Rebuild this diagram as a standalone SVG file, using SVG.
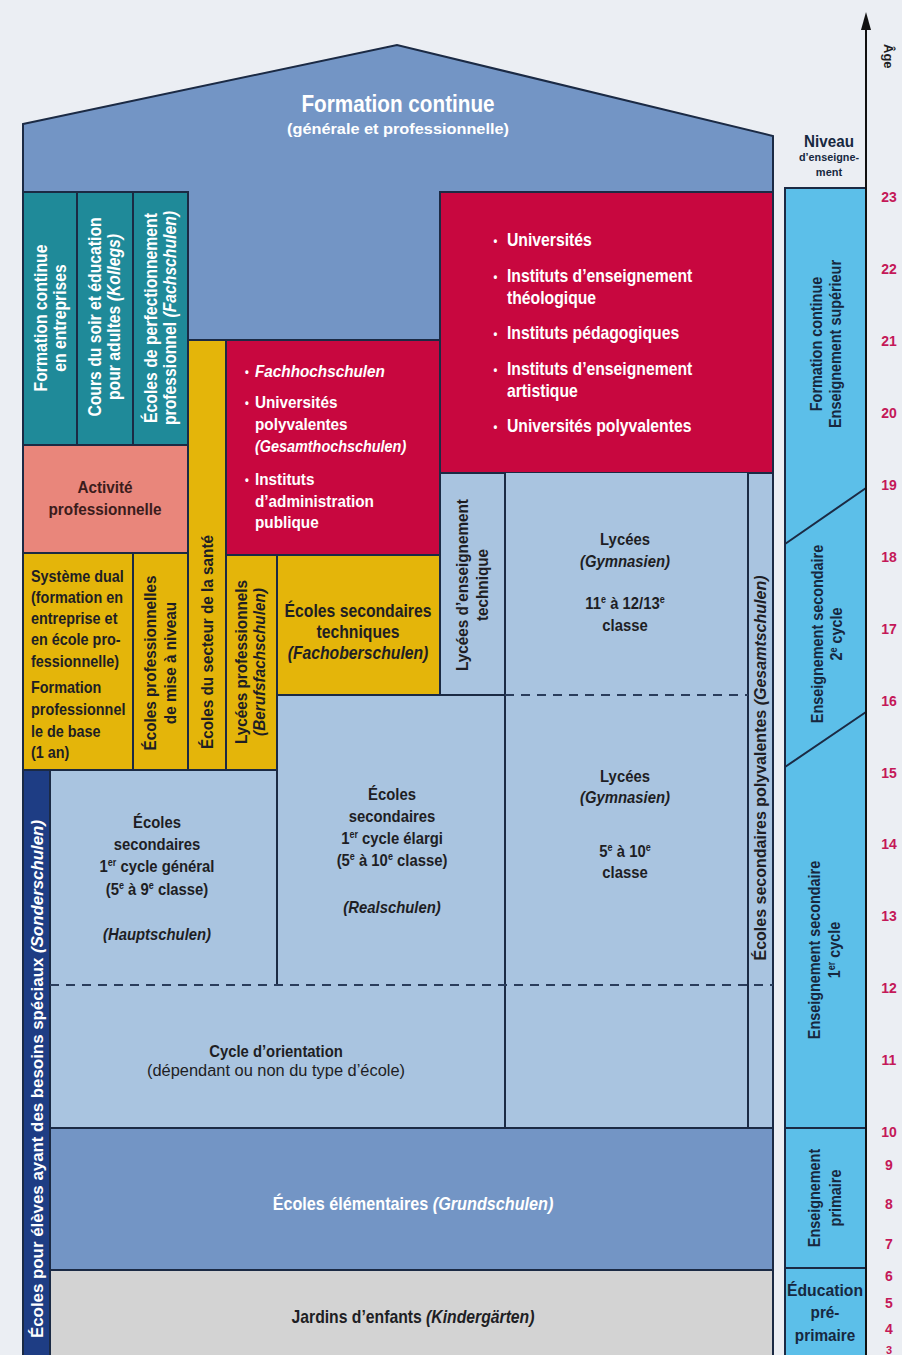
<svg xmlns="http://www.w3.org/2000/svg" width="902" height="1355" viewBox="0 0 902 1355">
<defs>
<style>
text{font-family:"Liberation Sans",Arial,"DejaVu Sans Condensed",sans-serif;font-weight:bold;}
.b{stroke:#1b2a44;stroke-width:2;}
.ln{fill:none;stroke:#1b2a44;stroke-width:2;}
.ds{fill:none;stroke:#2a3d5c;stroke-width:2;stroke-dasharray:9 7;}
.blue{fill:#7395c5;}
.teal{fill:#1f8a99;}
.red{fill:#c8073f;}
.yel{fill:#e4b50a;}
.lb{fill:#a9c4e0;}
.w{fill:#ffffff;}
.k{fill:#1e1e24;}
.nv{fill:#17283f;}
.i{font-style:italic;}
.n{font-weight:normal;}
.age{fill:#c41858;font-size:14px;text-anchor:middle;}
.c{text-anchor:middle;}
</style>
<marker id="arr" viewBox="0 0 18 10" refX="0" refY="5" markerWidth="18" markerHeight="10" markerUnits="userSpaceOnUse" orient="auto">
<path d="M0,0 L18,5 L0,10 z" fill="#111"/>
</marker>
</defs>
<rect x="0" y="0" width="902" height="1355" fill="#ebeef3"/>

<g id="formation-continue">
<polygon class="blue b" points="23,124 397,45 773,136 773,1128 23,1128"/>
<text class="w c" font-size="23" transform="translate(398,112) scale(.9,1)">Formation continue</text>
<text class="w c" x="398" y="134" font-size="15" textLength="222" lengthAdjust="spacingAndGlyphs">(générale et professionnelle)</text>
</g>

<g id="formation-entreprises">
<rect class="teal b" x="23" y="192" width="54" height="253"/>
<text class="w c" font-size="17.5" transform="translate(51,318) rotate(-90) scale(.9,1)"><tspan x="0" y="-4">Formation continue</tspan><tspan x="0" y="15">en entreprises</tspan></text>
</g>
<g id="kollegs">
<rect class="teal b" x="77" y="192" width="56" height="253"/>
<text class="w c" font-size="17.5" transform="translate(105,317) rotate(-90) scale(.9,1)"><tspan x="0" y="-4">Cours du soir et éducation</tspan><tspan x="0" y="15">pour adultes <tspan class="i">(Kollegs)</tspan></tspan></text>
</g>
<g id="fachschulen">
<rect class="teal b" x="133" y="192" width="55" height="253"/>
<text class="w c" font-size="17.5" transform="translate(161,318) rotate(-90) scale(.9,1)"><tspan x="0" y="-4">Écoles de perfectionnement</tspan><tspan x="0" y="15">professionnel <tspan class="i">(Fachschulen)</tspan></tspan></text>
</g>

<g id="universites">
<rect class="red b" x="440" y="192" width="333" height="281"/>
<g class="w" font-size="17.5" transform="translate(507,0) scale(.9,1)">
<text x="-15" y="245" font-size="12">•</text><text x="0" y="246">Universités</text>
<text x="-15" y="281" font-size="12">•</text><text x="0" y="282">Instituts d’enseignement</text>
<text x="0" y="304">théologique</text>
<text x="-15" y="338" font-size="12">•</text><text x="0" y="339">Instituts pédagogiques</text>
<text x="-15" y="374" font-size="12">•</text><text x="0" y="375">Instituts d’enseignement</text>
<text x="0" y="397">artistique</text>
<text x="-15" y="431" font-size="12">•</text><text x="0" y="432">Universités polyvalentes</text>
</g>
</g>

<g id="sante">
<rect class="yel b" x="188" y="340" width="38" height="430"/>
<text class="k c" font-size="17" transform="translate(207,642) rotate(-90) scale(.9,1)" y="6">Écoles du secteur de la santé</text>
</g>

<g id="fachhochschulen">
<rect class="red b" x="226" y="340" width="214" height="215"/>
<g class="w" font-size="17" transform="translate(255,0) scale(.9,1)">
<text x="-11" y="376" font-size="12">•</text><text x="0" y="377" class="i">Fachhochschulen</text>
<text x="-11" y="407" font-size="12">•</text><text x="0" y="408">Universités</text>
<text x="0" y="430">polyvalentes</text>
<text x="0" y="452" class="i" textLength="168" lengthAdjust="spacingAndGlyphs">(Gesamthochschulen)</text>
<text x="-11" y="484" font-size="12">•</text><text x="0" y="485">Instituts</text>
<text x="0" y="507">d’administration</text>
<text x="0" y="528">publique</text>
</g>
</g>

<g id="activite">
<rect class="b" fill="#e9867b" x="23" y="445" width="165" height="108"/>
<g class="c" fill="#3b1c1c" font-size="17" transform="translate(105,0) scale(.9,1)">
<text x="0" y="493">Activité</text>
<text x="0" y="515">professionnelle</text>
</g>
</g>

<g id="systeme-dual">
<rect class="yel b" x="23" y="553" width="110" height="217"/>
<g class="k" font-size="16" transform="translate(31,0) scale(.9,1)">
<text x="0" y="582">Système dual</text>
<text x="0" y="603">(formation en</text>
<text x="0" y="624">entreprise et</text>
<text x="0" y="645">en école pro-</text>
<text x="0" y="667">fessionnelle)</text>
<text x="0" y="693">Formation</text>
<text x="0" y="715">professionnel</text>
<text x="0" y="737">le de base</text>
<text x="0" y="758">(1 an)</text>
</g>
</g>

<g id="mise-a-niveau">
<rect class="yel b" x="133" y="553" width="55" height="217"/>
<text class="k c" font-size="17" transform="translate(160,663) rotate(-90) scale(.9,1)"><tspan x="0" y="-4">Écoles professionnelles</tspan><tspan x="0" y="16">de mise à niveau</tspan></text>
</g>

<g id="berufsfachschulen">
<rect class="yel b" x="226" y="555" width="51" height="215"/>
<text class="k c" font-size="17" transform="translate(251,662) rotate(-90) scale(.9,1)"><tspan x="0" y="-4">Lycées professionnels</tspan><tspan x="0" y="14" class="i">(Berufsfachschulen)</tspan></text>
</g>

<g id="fachoberschulen">
<rect class="yel b" x="277" y="555" width="163" height="140"/>
<g class="k c" font-size="17.5" transform="translate(358,0) scale(.9,1)">
<text x="0" y="617">Écoles secondaires</text>
<text x="0" y="638">techniques</text>
<text x="0" y="659" class="i">(Fachoberschulen)</text>
</g>
</g>

<g id="lycees-techniques">
<rect class="lb b" x="440" y="473" width="65" height="222"/>
<text class="k c" font-size="17" transform="translate(472,585) rotate(-90) scale(.9,1)"><tspan x="0" y="-4">Lycées d’enseignement</tspan><tspan x="0" y="16">technique</tspan></text>
</g>

<g id="gymnasien">
<rect class="lb" x="505" y="473" width="243" height="655"/>
<g class="k c" font-size="16.5" transform="translate(625,0) scale(.9,1)">
<text x="0" y="545">Lycées</text>
<text x="0" y="567" class="i">(Gymnasien)</text>
<text x="0" y="609">11<tspan font-size="10" dy="-6">e</tspan><tspan dy="6"> à 12/13</tspan><tspan font-size="10" dy="-6">e</tspan></text>
<text x="0" y="631">classe</text>
<text x="0" y="782">Lycées</text>
<text x="0" y="803" class="i">(Gymnasien)</text>
<text x="0" y="857">5<tspan font-size="10" dy="-6">e</tspan><tspan dy="6"> à 10</tspan><tspan font-size="10" dy="-6">e</tspan></text>
<text x="0" y="878">classe</text>
</g>
</g>

<g id="gesamtschulen">
<rect class="lb b" x="748" y="473" width="25" height="655"/>
<text class="k c" font-size="16" transform="translate(760,768) rotate(-90)" y="6" textLength="385" lengthAdjust="spacingAndGlyphs">Écoles secondaires polyvalentes <tspan class="i">(Gesamtschulen)</tspan></text>
</g>

<g id="hauptschulen">
<rect class="lb" x="50" y="770" width="227" height="215"/>
<g class="k c" font-size="16.5" transform="translate(157,0) scale(.9,1)">
<text x="0" y="828">Écoles</text>
<text x="0" y="850">secondaires</text>
<text x="0" y="872">1<tspan font-size="10" dy="-6">er</tspan><tspan dy="6"> cycle général</tspan></text>
<text x="0" y="895">(5<tspan font-size="10" dy="-6">e</tspan><tspan dy="6"> à 9</tspan><tspan font-size="10" dy="-6">e</tspan><tspan dy="6"> classe)</tspan></text>
<text x="0" y="940" class="i">(Hauptschulen)</text>
</g>
</g>

<g id="realschulen">
<rect class="lb" x="277" y="695" width="228" height="290"/>
<g class="k c" font-size="16.5" transform="translate(392,0) scale(.9,1)">
<text x="0" y="800">Écoles</text>
<text x="0" y="822">secondaires</text>
<text x="0" y="844">1<tspan font-size="10" dy="-6">er</tspan><tspan dy="6"> cycle élargi</tspan></text>
<text x="0" y="866">(5<tspan font-size="10" dy="-6">e</tspan><tspan dy="6"> à 10</tspan><tspan font-size="10" dy="-6">e</tspan><tspan dy="6"> classe)</tspan></text>
<text x="0" y="913" class="i">(Realschulen)</text>
</g>
</g>

<g id="cycle-orientation">
<rect class="lb" x="50" y="985" width="455" height="143"/>
<text class="k c" font-size="16.5" transform="translate(276,1057) scale(.9,1)">Cycle d’orientation</text>
<text class="k c n" font-size="16" x="276" y="1076" textLength="258" lengthAdjust="spacingAndGlyphs">(dépendant ou non du type d’école)</text>
</g>

<g id="sonderschulen">
<rect class="b" fill="#1e3d84" x="23" y="770" width="27" height="590"/>
<text class="w c" font-size="16" transform="translate(37,1079) rotate(-90)" y="6" textLength="518" lengthAdjust="spacingAndGlyphs">Écoles pour élèves ayant des besoins spéciaux <tspan class="i">(Sonderschulen)</tspan></text>
</g>

<g id="grundschulen">
<rect class="blue b" x="50" y="1128" width="723" height="142"/>
<text class="w c" font-size="18" transform="translate(413,1210) scale(.9,1)">Écoles élémentaires <tspan class="i">(Grundschulen)</tspan></text>
</g>

<g id="kindergarten">
<rect class="b" fill="#d3d3d3" x="50" y="1270" width="723" height="95"/>
<text class="k c" font-size="17.5" transform="translate(413,1323) scale(.9,1)">Jardins d’enfants <tspan class="i">(Kindergärten)</tspan></text>
</g>

<g id="borders">
<path class="ln" d="M277,695 V985 M505,473 V1128 M748,473 V1128 M50,1128 H773 M50,770 H277 M277,695 H505"/>
<path class="ds" d="M50,985 H773 M505,695 H748"/>
</g>

<g id="niveau">
<text class="nv c" font-size="16" transform="translate(829,147) scale(.95,1)">Niveau</text>
<text class="nv c" font-size="11" x="829" y="161" textLength="60" lengthAdjust="spacingAndGlyphs">d’enseigne-</text>
<text class="nv c" font-size="11" x="829" y="176">ment</text>
<rect fill="#5cbfe9" class="b" x="785" y="188" width="81" height="1175"/>
<path class="ln" d="M785,544 L866,488 M785,767 L866,712 M785,1128 H866 M785,1268 H866"/>
<text class="nv c" font-size="16" transform="translate(826,344) rotate(-90) scale(.9,1)"><tspan x="0" y="-4">Formation continue</tspan><tspan x="0" y="15">Enseignement supérieur</tspan></text>
<text class="nv c" font-size="16" transform="translate(827,634) rotate(-90) scale(.9,1)"><tspan x="0" y="-4">Enseignement secondaire</tspan><tspan x="0" y="15">2<tspan font-size="10" dy="-5">e</tspan><tspan dy="5"> cycle</tspan></tspan></text>
<text class="nv c" font-size="16" transform="translate(826,950) rotate(-90) scale(.9,1)"><tspan x="0" y="-6">Enseignement secondaire</tspan><tspan x="0" y="14">1<tspan font-size="10" dy="-5">er</tspan><tspan dy="5"> cycle</tspan></tspan></text>
<text class="nv c" font-size="16" transform="translate(826,1198) rotate(-90) scale(.9,1)"><tspan x="0" y="-6">Enseignement</tspan><tspan x="0" y="15">primaire</tspan></text>
<text class="nv c" font-size="17" x="825" y="1296" textLength="76" lengthAdjust="spacingAndGlyphs">Éducation</text>
<text class="nv c" font-size="17" transform="translate(825,1318) scale(.9,1)">pré-</text>
<text class="nv c" font-size="17" transform="translate(825,1341) scale(.9,1)">primaire</text>
</g>

<g id="connectors">
<line x1="866" y1="1355" x2="866" y2="30" stroke="#111" stroke-width="2" marker-end="url(#arr)"/>
</g>

<g id="age">
<text font-size="13" fill="#1e1e24" transform="translate(884,44) rotate(90)">Âge</text>
<g class="age">
<text x="889" y="202">23</text>
<text x="889" y="274">22</text>
<text x="889" y="346">21</text>
<text x="889" y="418">20</text>
<text x="889" y="490">19</text>
<text x="889" y="562">18</text>
<text x="889" y="634">17</text>
<text x="889" y="706">16</text>
<text x="889" y="778">15</text>
<text x="889" y="849">14</text>
<text x="889" y="921">13</text>
<text x="889" y="993">12</text>
<text x="889" y="1065">11</text>
<text x="889" y="1137">10</text>
<text x="889" y="1170">9</text>
<text x="889" y="1209">8</text>
<text x="889" y="1249">7</text>
<text x="889" y="1281">6</text>
<text x="889" y="1308">5</text>
<text x="889" y="1334">4</text>
<text x="889" y="1354" font-size="11">3</text>
</g>
</g>
</svg>
